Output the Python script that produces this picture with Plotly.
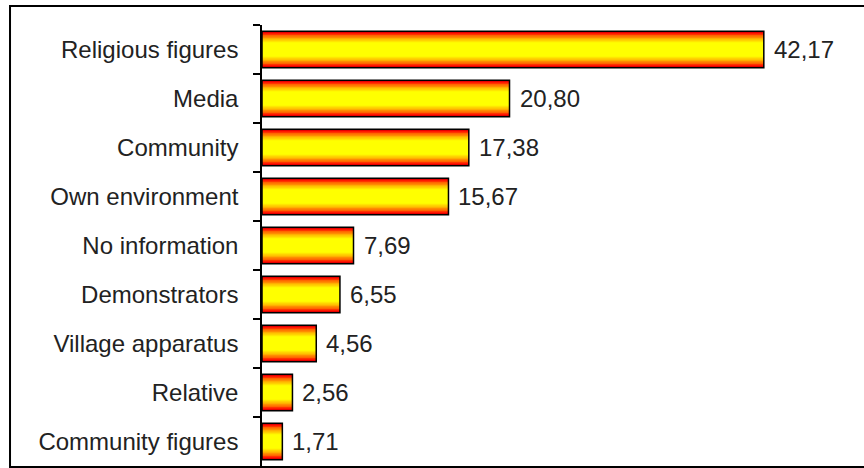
import plotly.graph_objects as go

# Sources of information, top to bottom, with their shares (%)
categories = [
    "Religious figures", "Media", "Community", "Own environment",
    "No information", "Demonstrators", "Village apparatus", "Relative",
    "Community figures",
]
values = [42.17, 20.80, 17.38, 15.67, 7.69, 6.55, 4.56, 2.56, 1.71]
value_labels = ["42,17", "20,80", "17,38", "15,67", "7,69", "6,55", "4,56", "2,56", "1,71"]

FONT = "Liberation Sans, Arial, sans-serif"
TEXT_COLOR = "#222222"
BAR_WIDTH = 0.74

# Cylinder-like shading: overlaid bars, widest red at the edges, narrowest yellow in the middle
shade_stops = [
    (1.00, "#a00000"),
    (0.95, "#ff0000"),
    (0.88, "#ff3300"),
    (0.80, "#ff6600"),
    (0.72, "#ff8c00"),
    (0.64, "#ffae00"),
    (0.56, "#ffcc00"),
    (0.48, "#ffe600"),
    (0.40, "#ffff00"),
]

fig = go.Figure()
for frac, color in shade_stops:
    fig.add_trace(go.Bar(
        x=values, y=categories, orientation="h",
        width=BAR_WIDTH * frac,
        marker=dict(color=color, line=dict(width=0)),
        hoverinfo="skip", showlegend=False,
    ))

# Black outline on top
fig.add_trace(go.Bar(
    x=values, y=categories, orientation="h", width=BAR_WIDTH,
    marker=dict(color="rgba(0,0,0,0)", line=dict(color="#000000", width=1.5)),
    showlegend=False,
))

for cat, v, lab in zip(categories, values, value_labels):
    fig.add_annotation(
        x=v, y=cat, text=lab, showarrow=False,
        xanchor="left", yanchor="middle", xshift=8,
        font=dict(family=FONT, size=24, color=TEXT_COLOR),
    )

# Frame around the whole chart
fig.add_shape(
    type="rect", xref="paper", yref="paper",
    x0=-0.4235, x1=1.03, y0=-0.002, y1=1.043,
    line=dict(color="#000000", width=2), fillcolor="rgba(0,0,0,0)",
    layer="above",
)

fig.update_layout(
    width=864, height=468,
    margin=dict(l=262, r=7, t=25, b=2),
    paper_bgcolor="white", plot_bgcolor="white",
    barmode="overlay",
    font=dict(family=FONT, size=24, color=TEXT_COLOR),
    xaxis=dict(range=[0, 50], visible=False, fixedrange=True),
    yaxis=dict(
        categoryorder="array", categoryarray=categories, autorange="reversed",
        showline=True, linecolor="#000000", linewidth=1.5,
        ticks="outside", tickson="boundaries", ticklen=7, tickcolor="#000000", tickwidth=1.5,
        ticklabelstandoff=17,
        showgrid=False, zeroline=False, fixedrange=True,
        tickfont=dict(family=FONT, size=24, color=TEXT_COLOR),
    ),
)

fig.write_html("out.html")
